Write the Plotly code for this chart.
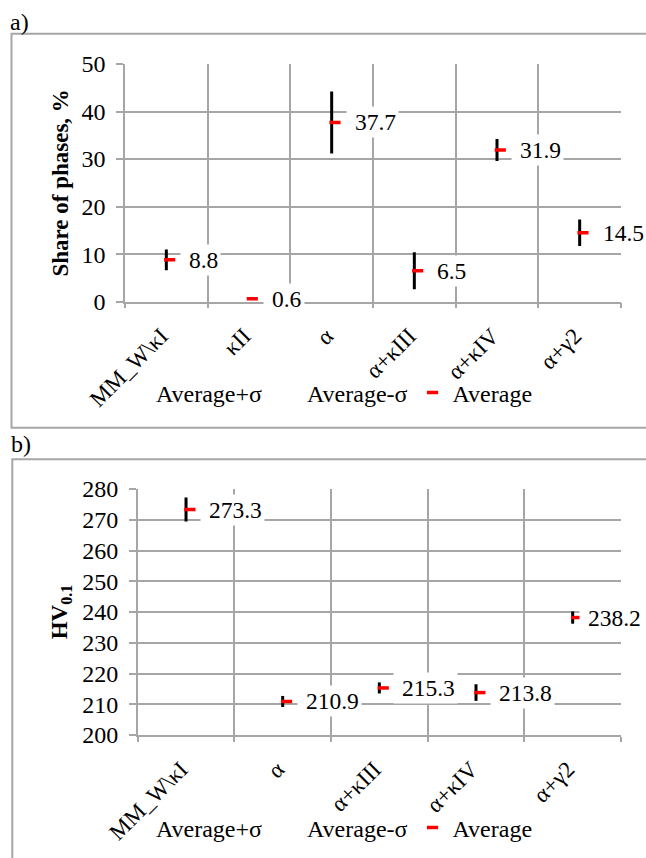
import plotly.graph_objects as go

# Panel a: share of phases, %
cats_a = ["MM_W\\κI", "κII", "α", "α+κIII", "α+κIV", "α+γ2"]
avg_a = [8.8, 0.6, 37.7, 6.5, 31.9, 14.5]
hi_a = [11.0, 0.8, 44.2, 10.4, 34.2, 17.3]
lo_a = [6.6, 0.4, 31.2, 2.6, 29.6, 11.7]

# Panel b: microhardness HV0.1
cats_b = ["MM_W\\κI", "α", "α+κIII", "α+κIV", "α+γ2"]
avg_b = [273.3, 210.9, 215.3, 213.8, 238.2]
hi_b = [277.2, 212.7, 217.1, 216.5, 240.2]
lo_b = [269.4, 209.1, 213.5, 211.1, 236.2]

W, H = 646, 858
FONT = "Liberation Serif, Times New Roman, Times, serif"
GRID = "#a6a6a6"
FS = 24       # horizontal texts
FS_ROT = 23   # rotated texts
FS_LBL = 23.5 # data labels


def px_x(p):
    return p / W


def px_y(p):
    return 1 - p / H


fig = go.Figure()


def add_panel(cats, avg, hi, lo, xa, ya, legend, last_shift=14):
    idx = list(range(len(cats)))
    # high-low lines between Average+σ and Average-σ
    lx, ly = [], []
    for i, h, l in zip(idx, hi, lo):
        lx += [i, i, None]
        ly += [l, h, None]
    fig.add_trace(go.Scatter(x=lx, y=ly, mode="lines",
                             line=dict(color="black", width=3),
                             showlegend=False, hoverinfo="skip",
                             xaxis=xa, yaxis=ya))
    fig.add_trace(go.Scatter(x=idx, y=hi, mode="markers", name="Average+σ",
                             marker=dict(color="rgba(0,0,0,0)", size=1),
                             xaxis=xa, yaxis=ya, legend=legend))
    fig.add_trace(go.Scatter(x=idx, y=lo, mode="markers", name="Average-σ",
                             marker=dict(color="rgba(0,0,0,0)", size=1),
                             xaxis=xa, yaxis=ya, legend=legend))
    # closing tick drawn to the right of each high-low line
    fig.add_trace(go.Scatter(x=[i + 0.04 for i in idx], y=avg, mode="markers",
                             name="Average",
                             marker=dict(symbol="line-ew", size=8,
                                         line=dict(color="#ff0000", width=3.5)),
                             xaxis=xa, yaxis=ya, legend=legend))
    for i, v in zip(idx, avg):
        shift = last_shift if i == idx[-1] else 14
        fig.add_annotation(x=i, y=v, xref=xa, yref=ya,
                           text=f"\u00a0{v}", showarrow=False,
                           xanchor="left", yanchor="middle", xshift=shift,
                           bgcolor="white", borderpad=2,
                           font=dict(family=FONT, size=FS_LBL, color="black"))


add_panel(cats_a, avg_a, hi_a, lo_a, "x", "y", "legend")
add_panel(cats_b, avg_b, hi_b, lo_b, "x2", "y2", "legend2", last_shift=6)

xcommon = dict(
    showgrid=False, ticks="", zeroline=False, automargin=False,
    showline=True, linecolor=GRID, linewidth=1.5,
    tickangle=-45, tickmode="array",
    ticklabelstandoff=10, ticklabelshift=-5,
    tickfont=dict(family=FONT, size=FS_ROT, color="black"),
    minor=dict(tick0=-0.5, dtick=1, ticks="outside", ticklen=5,
               tickcolor=GRID, tickwidth=1.5, showgrid=True,
               gridcolor=GRID, gridwidth=1.5),
)
ycommon = dict(
    showgrid=True, gridcolor=GRID, gridwidth=1.5, zeroline=False,
    automargin=False,
    showline=True, linecolor=GRID, linewidth=1.5,
    ticks="outside", ticklen=7, tickcolor=GRID, tickwidth=1.5,
    ticklabelstandoff=6,
    tickfont=dict(family=FONT, size=FS, color="black"), dtick=10,
)

fig.update_layout(
    width=W, height=H,
    margin=dict(l=0, r=0, t=0, b=0),
    paper_bgcolor="white", plot_bgcolor="white",
    font=dict(family=FONT, size=FS, color="black"),
    xaxis=dict(xcommon, domain=[px_x(125), px_x(621)], anchor="y",
               range=[-0.5, len(cats_a) - 0.5],
               tickvals=list(range(len(cats_a))), ticktext=cats_a),
    yaxis=dict(ycommon, domain=[px_y(301.7), px_y(64)], anchor="x",
               range=[0, 50],
               title=dict(text="<b>Share of phases, %</b>", standoff=6,
                          font=dict(family=FONT, size=FS_ROT, color="black"))),
    xaxis2=dict(xcommon, domain=[px_x(137.7), px_x(621)], anchor="y2",
                range=[-0.5, len(cats_b) - 0.5],
                tickvals=list(range(len(cats_b))), ticktext=cats_b),
    yaxis2=dict(ycommon, domain=[px_y(735), px_y(489)], anchor="x2",
                range=[200, 280],
                title=dict(text="<b>HV<sub>0.1</sub></b>", standoff=8,
                           font=dict(family=FONT, size=FS_ROT, color="black"))),
    legend=dict(orientation="h", x=px_x(116), xanchor="left",
                y=px_y(393), yanchor="middle", bgcolor="rgba(0,0,0,0)",
                font=dict(family=FONT, size=FS, color="black")),
    legend2=dict(orientation="h", x=px_x(116), xanchor="left",
                 y=px_y(828), yanchor="middle", bgcolor="rgba(0,0,0,0)",
                 font=dict(family=FONT, size=FS, color="black")),
)

# frames around each panel
fig.add_shape(type="rect", xref="paper", yref="paper",
              x0=px_x(11.5), x1=1.05, y0=px_y(427.7), y1=px_y(33.7),
              line=dict(color=GRID, width=2), layer="below")
fig.add_shape(type="rect", xref="paper", yref="paper",
              x0=px_x(12.3), x1=1.05, y0=-0.05, y1=px_y(459.3),
              line=dict(color=GRID, width=2), layer="below")

# panel letters
fig.add_annotation(xref="paper", yref="paper", x=px_x(8), y=px_y(22),
                   xanchor="left", yanchor="middle", text="a)",
                   showarrow=False, font=dict(family=FONT, size=FS))
fig.add_annotation(xref="paper", yref="paper", x=px_x(9), y=px_y(444),
                   xanchor="left", yanchor="middle", text="b)",
                   showarrow=False, font=dict(family=FONT, size=FS))

fig.write_html("out.html")
